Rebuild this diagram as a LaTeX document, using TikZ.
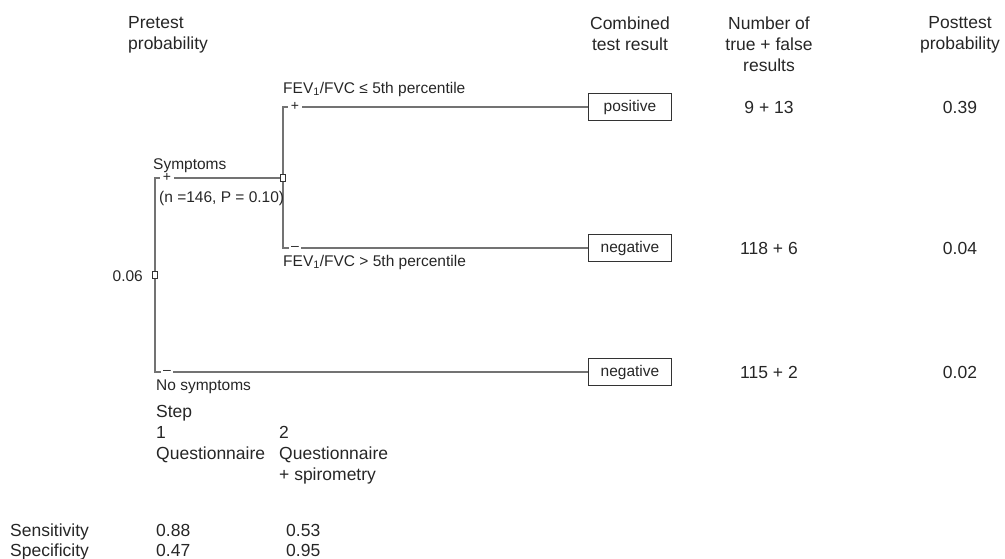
\documentclass[tikz,border=0pt]{standalone}
\usepackage{fontspec}
\setmainfont{Liberation Sans}
\usetikzlibrary{calc}

\begin{document}
\begin{tikzpicture}[x = 1pt, y = -1pt,
big/.style = {font = \fontsize{17.5}{21}\selectfont, text = black!85, inner sep = 0pt},
small/.style = {font = \fontsize{15.5}{18}\selectfont, text = black!85, inner sep = 0pt},
result/.style = {draw = black!80, line width = 1pt, minimum width = 83pt, minimum height = 27pt, inner sep = 0pt, font = \fontsize{15.5}{18}\selectfont, text = black!85},
chance/.style = {draw = black!80, fill = white, line width = .8pt, minimum width = 4.5pt, minimum height = 6.5pt, inner sep = 0pt},
branch/.style = {draw = black!55, line width = 1.3pt},
sign/.style = {fill = white, inner xsep = 2.5pt, inner ysep = 0pt, font = \fontsize{14}{14}\selectfont, text = black!85}
]
\useasboundingbox (0,0) rectangle (1005,558);

% column heads
\node[big, anchor = north west, align = left] (pre) at (128,16.5) {Pretest\\probability};
\node[big, anchor = north, align = center] (comb) at (630,16.5) {Combined\\test result};
\node[big, anchor = north, align = center] (count) at (769,16.5) {Number of\\true + false\\results};
\node[big, anchor = north, align = center] (post) at (960,16.5) {Posttest\\probability};

% tree
\node[chance] (root) at (155,275) {};
\node[chance] (sym) at (283,178) {};
\node[result] (pos) at (630,107) {positive};
\node[result] (neg) at (630,248) {negative};
\node[result] (nosym) at (630,372) {negative};

\draw[branch] (root.north) -- (root|-sym) -- (sym.west);
\draw[branch] (root.south) -- (root|-nosym) -- (nosym.west);
\draw[branch] (sym.north) -- (sym|-pos) -- (pos.west);
\draw[branch] (sym.south) -- (sym|-neg) -- (neg.west);

\node[sign] (symplus) at ($(root|-sym)+(12,-.5)$) {+};
\node[sign] (symminus) at ($(root|-nosym)+(12,.5)$) {--};
\node[sign] (fevplus) at ($(sym|-pos)+(12,-.5)$) {+};
\node[sign] (fevminus) at ($(sym|-neg)+(12,.5)$) {--};

\node[small, anchor = base east] (p0) at (143,281) {0.06};
\node[small, anchor = base west] (lsym) at (153,169) {Symptoms};
\node[small, anchor = base west] (lnp) at (159,202) {(n =146, P = 0.10)};
\node[small, anchor = base west] (lnosym) at (156,390) {No symptoms};
\node[small, anchor = base west] (lfevlow) at (283,93) {FEV\textsubscript{1}/FVC ≤ 5th percentile};
\node[small, anchor = base west] (lfevhigh) at (283,266) {FEV\textsubscript{1}/FVC > 5th percentile};

% counts and posttest probabilities
\foreach \y/\n/\p in {107/9 + 13/0.39, 248/118 + 6/0.04, 372/115 + 2/0.02}{
	\node[big] (n\y) at (769,\y) {\n};
	\node[big] (p\y) at (960,\y) {\p};
}

% steps
\node[big, anchor = north west, align = left] (step1) at (156,405.5) {Step\\1\\Questionnaire};
\node[big, anchor = north west, align = left] (step2) at (279,426.5) {2\\Questionnaire\\+ spirometry};

\node[big, anchor = base west] (sens) at (10,536) {Sensitivity};
\node[big, anchor = base west] (sens1) at (156,536) {0.88};
\node[big, anchor = base west] (sens2) at (286,536) {0.53};
\node[big, anchor = base west] (spec) at (10,556) {Specificity};
\node[big, anchor = base west] (spec1) at (156,556) {0.47};
\node[big, anchor = base west] (spec2) at (286,556) {0.95};
\end{tikzpicture}
\end{document}
